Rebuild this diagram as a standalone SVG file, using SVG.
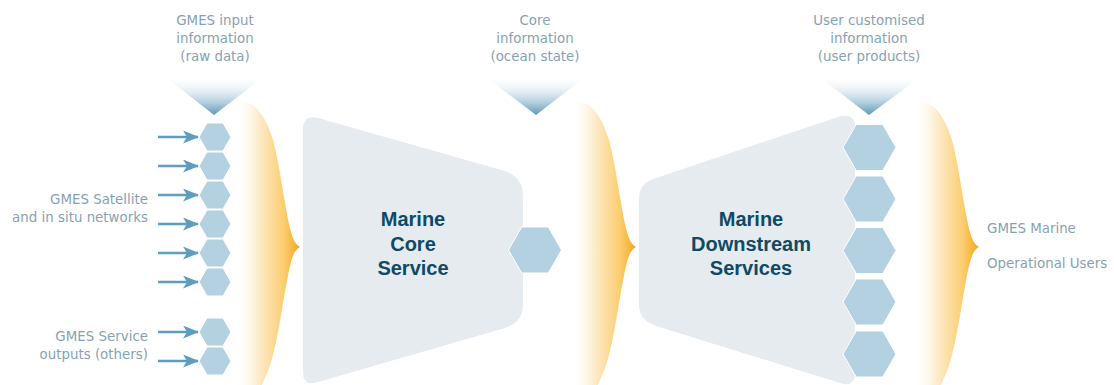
<svg xmlns="http://www.w3.org/2000/svg" xmlns:xlink="http://www.w3.org/1999/xlink" width="1114" height="385" viewBox="0 0 1114 385">
<style>
.lbl{font-family:"DejaVu Sans","Liberation Sans",sans-serif;font-size:13.4px;fill:#86a2b2}
.ttl{font-family:"Liberation Sans",Arial,sans-serif;font-size:20px;font-weight:bold;fill:#0e4a66;text-anchor:middle}
.hex{fill:#b3d1e0;stroke:#fff;stroke-width:1}
.panel{fill:#e6ebef}
.arr{stroke:#5e9dbf;stroke-width:2.6;fill:none;marker-end:url(#ah)}
.brace{fill:url(#og)}
.tri{fill:url(#bg)}
</style>
<defs>
<linearGradient id="og" x1="0" y1="0" x2="1" y2="0">
<stop offset="0" stop-color="#ffffff" stop-opacity="0"/>
<stop offset="0.35" stop-color="#fdeccc"/>
<stop offset="0.75" stop-color="#fbcd70"/>
<stop offset="1" stop-color="#f4a61a"/>
</linearGradient>
<linearGradient id="bg" x1="0" y1="0" x2="0" y2="1">
<stop offset="0" stop-color="#ffffff" stop-opacity="0"/>
<stop offset="1" stop-color="#5a97b7"/>
</linearGradient>
<marker id="ah" markerUnits="userSpaceOnUse" markerWidth="17" markerHeight="13" refX="15" refY="6.5" orient="auto">
<path d="M0,0 L16,6.5 L0,13 L4,6.5 Z" fill="#5e9dbf"/>
</marker>
<path id="brace" d="M0,100 C20,100 30,115 38,140 C45,165 50,210 56,232 C58,240 61,245 65,247 C61,249 58,254 56,262 C50,285 45,330 38,355 C34,370 28,385 22,392 L0,392 Z"/>
<polygon id="hs" points="-16,0 -8,-14 8,-14 16,0 8,14 -8,14"/>
<polygon id="hb" points="-26.5,0 -13.3,-23 13.3,-23 26.5,0 13.3,23 -13.3,23"/>
</defs>

<g id="braces">
<use xlink:href="#brace" class="brace" transform="translate(235,0)"/>
<use xlink:href="#brace" class="brace" transform="translate(571,0)"/>
<use xlink:href="#brace" class="brace" transform="translate(914,0)"/>
</g>

<g id="core-service">
<path class="panel" d="M303,130 Q303,114 318,118 L505,171 Q523,177 523,196 L523,305 Q523,322 505,328 L318,382 Q303,387 303,372 Z"/>
<text class="ttl" x="413" y="226">Marine</text>
<text class="ttl" x="413" y="251">Core</text>
<text class="ttl" x="413" y="275">Service</text>
</g>

<g id="downstream-services">
<path class="panel" d="M639,198 Q639,183 656,178 L838,117 Q855,112 855,128 L855,372 Q855,388 840,383 L656,326 Q639,320 639,305 Z"/>
<text class="ttl" x="751" y="226">Marine</text>
<text class="ttl" x="751" y="251">Downstream</text>
<text class="ttl" x="751" y="275">Services</text>
</g>

<g id="input-hexagons">
<use xlink:href="#hs" class="hex" x="215" y="137"/>
<use xlink:href="#hs" class="hex" x="215" y="166"/>
<use xlink:href="#hs" class="hex" x="215" y="195"/>
<use xlink:href="#hs" class="hex" x="215" y="224"/>
<use xlink:href="#hs" class="hex" x="215" y="253"/>
<use xlink:href="#hs" class="hex" x="215" y="282"/>
<use xlink:href="#hs" class="hex" x="215" y="332"/>
<use xlink:href="#hs" class="hex" x="215" y="361"/>
</g>

<g id="core-hexagon">
<use xlink:href="#hb" class="hex" x="535" y="250"/>
</g>

<g id="user-hexagons">
<use xlink:href="#hb" class="hex" x="869.5" y="147.5"/>
<use xlink:href="#hb" class="hex" x="869.5" y="199"/>
<use xlink:href="#hb" class="hex" x="869.5" y="250.5"/>
<use xlink:href="#hb" class="hex" x="869.5" y="302"/>
<use xlink:href="#hb" class="hex" x="869.5" y="354"/>
</g>

<g id="funnels">
<polygon class="tri" points="163,75 266,75 214,115"/>
<polygon class="tri" points="483,75 588,75 536,115"/>
<polygon class="tri" points="817,75 923,75 869,115"/>
</g>

<g id="connectors">
<line class="arr" x1="158" y1="137" x2="198" y2="137"/>
<line class="arr" x1="158" y1="166" x2="198" y2="166"/>
<line class="arr" x1="158" y1="195" x2="198" y2="195"/>
<line class="arr" x1="158" y1="224" x2="198" y2="224"/>
<line class="arr" x1="158" y1="253" x2="198" y2="253"/>
<line class="arr" x1="158" y1="282" x2="198" y2="282"/>
<line class="arr" x1="158" y1="332" x2="198" y2="332"/>
<line class="arr" x1="158" y1="361" x2="198" y2="361"/>
</g>

<g id="labels">
<text class="lbl" x="215" y="25" text-anchor="middle">GMES input</text>
<text class="lbl" x="215" y="43" text-anchor="middle">information</text>
<text class="lbl" x="215" y="61" text-anchor="middle">(raw data)</text>
<text class="lbl" x="535" y="25" text-anchor="middle">Core</text>
<text class="lbl" x="535" y="43" text-anchor="middle">information</text>
<text class="lbl" x="535" y="61" text-anchor="middle">(ocean state)</text>
<text class="lbl" x="869" y="25" text-anchor="middle">User customised</text>
<text class="lbl" x="869" y="43" text-anchor="middle">information</text>
<text class="lbl" x="869" y="61" text-anchor="middle">(user products)</text>
<text class="lbl" x="148" y="204" text-anchor="end">GMES Satellite</text>
<text class="lbl" x="148" y="222" text-anchor="end">and in situ networks</text>
<text class="lbl" x="148" y="341" text-anchor="end">GMES Service</text>
<text class="lbl" x="148" y="359" text-anchor="end">outputs (others)</text>
<text class="lbl" x="987" y="233">GMES Marine</text>
<text class="lbl" x="987" y="268">Operational Users</text>
</g>
</svg>
